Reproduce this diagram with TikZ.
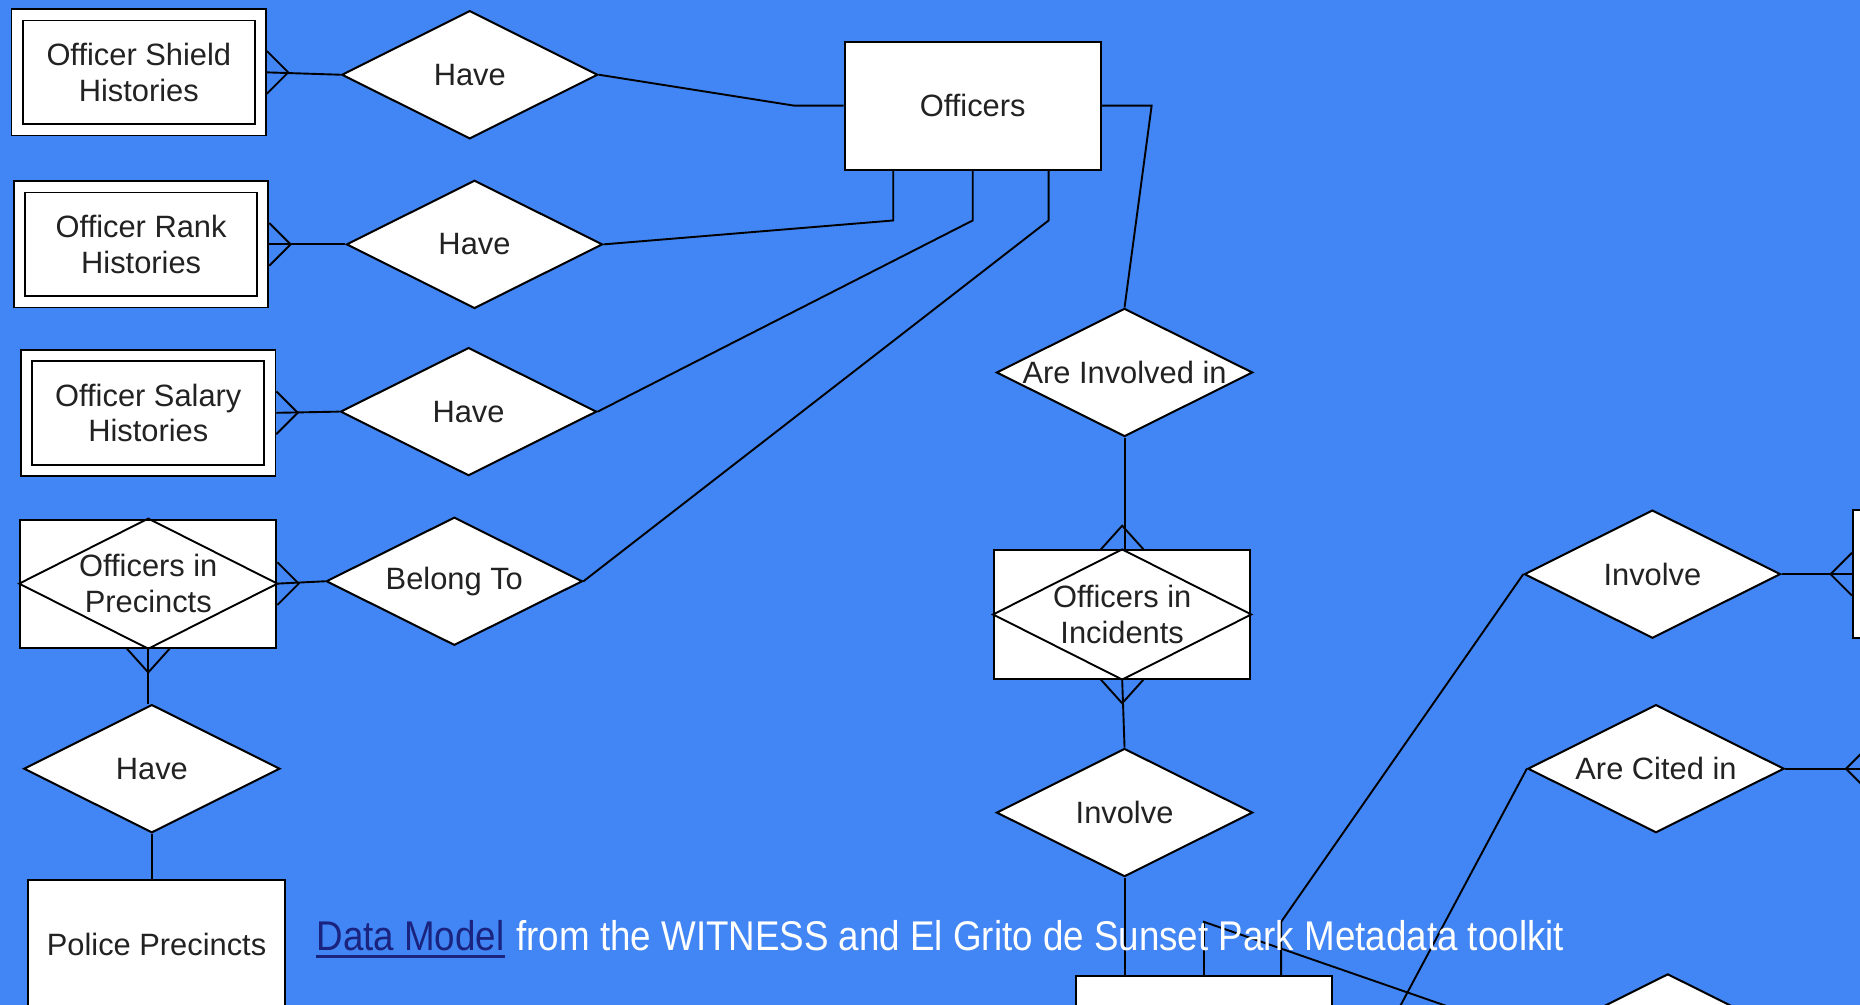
\documentclass[tikz,border=0pt]{standalone}
\usepackage{fontspec}
\setmainfont{Liberation Sans}
\usetikzlibrary{shapes.geometric}

\definecolor{sheetblue}{RGB}{66,133,244}
\definecolor{linknavy}{RGB}{26,35,126}
\definecolor{inkgray}{RGB}{34,34,34}

\begin{document}
\begin{tikzpicture}[x=1pt, y=-1pt, line width=1.6pt,
    entity/.style={draw, fill=white, line width=1.7pt, minimum width=216pt, minimum height=108pt,
        inner sep=0pt, align=center, text=inkgray, font=\fontsize{26}{30}\selectfont},
    weak/.style={entity, line width=1.5pt, double, double distance=8pt, outer sep=5.5pt, minimum width=205pt, minimum height=97pt},
    rel/.style={diamond, shape aspect=2, draw, fill=white, line width=1.7pt, minimum width=216pt,
        minimum height=108pt, inner sep=0pt, text=inkgray, font=\fontsize{26}{30}\selectfont},
    caption/.style={inner sep=0pt, text=white, font=\fontsize{35}{40}\selectfont}]

    \useasboundingbox (0,0) rectangle (1568,847);
    \clip (0,0) rectangle (1568,847);
    \fill[sheetblue] (0,0) rectangle (1568,847);

    % officer histories and precincts
    \node[weak]   (shield)    at (117,61)  {Officer Shield\\Histories};
    \node[weak]   (rank)      at (119,206) {Officer Rank\\Histories};
    \node[weak]   (salary)    at (125,348) {Officer Salary\\Histories};
    \node[entity] (precincts) at (125,492) {Officers in\\Precincts};
    \node[rel]    (havepp)    at (128,648) {Have};
    \node[entity] (police)    at (132,796) {Police Precincts};

    \node[rel]    (have1)     at (396,63)  {Have};
    \node[rel]    (have2)     at (400,206) {Have};
    \node[rel]    (have3)     at (395,347) {Have};
    \node[rel]    (belong)    at (383,490) {Belong To};
    \node[entity] (officers)  at (820,89)  {Officers};

    % incidents side
    \node[rel]    (involvedin) at (948,314)  {Are Involved in};
    \node[entity] (incidents)  at (946,518)  {Officers in\\Incidents};
    \node[rel]    (involve1)   at (948,685)  {Involve};
    \node[entity] (lowerent)   at (1015,877) {};
    \node[rel]    (involve2)   at (1393,484) {Involve};
    \node[rel]    (cited)      at (1396,648) {Are Cited in};
    \node[rel]    (lowerrel)   at (1406,875) {};
    \node[entity] (rightent1)  at (1670,484) {};
    \node[entity] (rightent2)  at (1683,648) {};
    \coordinate (citedend) at (1150,905);

    \foreach \n in {precincts,incidents}
        \draw (\n.north) -- (\n.east) -- (\n.south) -- (\n.west) -- cycle;

    \draw (shield.east) -- (have1.west);
    \draw (rank.east) -- (have2.west);
    \draw (salary.east) -- (have3.west);
    \draw (precincts.east) -- (belong.west);
    \draw (precincts.south) -- (precincts.south |- havepp.north);
    \draw (havepp.south) -- (havepp.south |- police.north);
    \draw (have1.east) -- ([xshift=-42pt]officers.west) -- (officers.west);
    \draw (have2.east) -- ([shift={(-67,42)}]officers.south) -- ([xshift=-67pt]officers.south);
    \draw (have3.east) -- ([shift={(0,42)}]officers.south) -- (officers.south);
    \draw (belong.east) -- ([shift={(64,42)}]officers.south) -- ([xshift=64pt]officers.south);
    \draw (officers.east) -- ++(42,0) -- (involvedin.north);
    \draw (involvedin.south) -- (involvedin.south |- incidents.north);
    \draw (incidents.south) -- (involve1.north);
    \draw (involve1.south) -- (involve1.south |- lowerent.north);
    \draw (lowerent.north) -- ++(0,-45) -- (lowerrel.west);
    \draw ([xshift=65pt]lowerent.north) -- ++(0,-45) -- (involve2.west);
    \draw (cited.west) -- (citedend);
    \draw (involve2.east) -- (rightent1.west);
    \draw (cited.east) -- (rightent2.west);

    % crow's feet
    \foreach \n in {shield,rank,salary,precincts}
        \draw ([yshift=18pt]\n.east) -- ([xshift=18pt]\n.east) -- ([yshift=-18pt]\n.east);
    \foreach \n in {rightent1,rightent2}
        \draw ([yshift=18pt]\n.west) -- ([xshift=-18pt]\n.west) -- ([yshift=-18pt]\n.west);
    \draw ([xshift=-18pt]incidents.north) -- ([yshift=20pt]incidents.north) -- ([xshift=18pt]incidents.north);
    \foreach \n in {precincts,incidents}
        \draw ([xshift=-18pt]\n.south) -- ([yshift=-20pt]\n.south) -- ([xshift=18pt]\n.south);

    % caption
    \node[caption, text=linknavy, anchor=base west] (link) at (266,801) {\scalebox{0.885}[1]{Data Model}};
    \node[caption, anchor=base west] (captxt) at ([xshift=8.5pt]link.base east)
        {\scalebox{0.885}[1]{from the WITNESS and El Grito de Sunset Park Metadata toolkit}};
    \draw[linknavy, line width=2.5pt] ([yshift=-5pt]link.base west) -- ([yshift=-5pt]link.base east);
\end{tikzpicture}
\end{document}
